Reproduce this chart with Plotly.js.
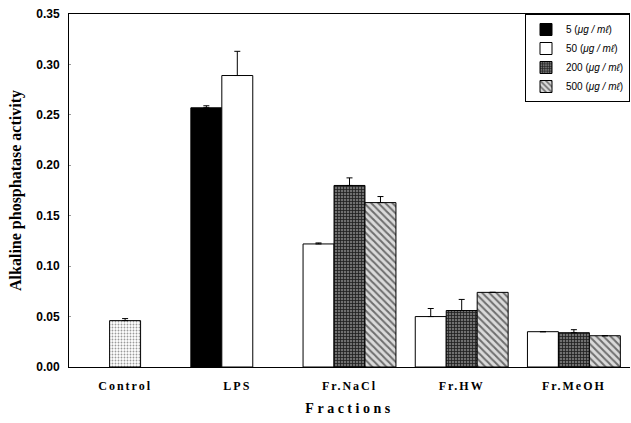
<!DOCTYPE html>
<html><head><meta charset="utf-8">
<script src="https://cdn.plot.ly/plotly-3.0.1.min.js"></script>
<style>
html,body{margin:0;padding:0;background:#fff;}
#chart .xtick text{letter-spacing:2px;}
#chart .g-xtitle text{letter-spacing:3.5px;}
</style>
</head><body>
<div id="chart" style="width:631px;height:423px;"></div>
<script>
const categories = ['Control','LPS','Fr.NaCl','Fr.HW','Fr.MeOH'];
const control    = [0.046, null, null, null, null];
const s5         = [null, 0.257, null, null, null];
const s50        = [null, 0.289, 0.122, 0.050, 0.035];
const s200       = [null, null, 0.180, 0.056, 0.034];
const s500       = [null, null, 0.163, 0.074, 0.031];
const errControl = [0.002, null, null, null, null];
const err5       = [null, 0.002, null, null, null];
const err50      = [null, 0.024, 0.001, 0.008, 0];
const err200     = [null, null, 0.0075, 0.011, 0.003];
const err500     = [null, null, 0.006, 0, 0];
const seriesNames = ['5 (<i>μg / mℓ</i>)','50 (<i>μg / mℓ</i>)','200 (<i>μg / mℓ</i>)','500 (<i>μg / mℓ</i>)'];

const W = 0.276;
// slot index (in bar widths, left edge) per category for each series
const slots = {
  control: [-0.5,-0.5,-0.5,-0.5,-0.5],
  s5:      [-1.5,-1.5,-1.5,-1.5,-1.5],
  s50:     [-0.5,-0.5,-1.5,-1.5,-1.5],
  s200:    [-0.5,-0.5,-0.5,-0.5,-0.5],
  s500:    [0.5,0.5,0.5,0.5,0.5]
};
function mk(vals, errs, slot, name, pattern, showlegend){
  return {
    type:'bar', x:categories, y:vals, name:name, showlegend:showlegend,
    width:W, offset:slot.map(s=>s*W),
    marker:{color:pattern.bg, line:{color:'#000', width:1}, pattern:pattern.p},
    error_y:{type:'data', symmetric:false, array:errs, arrayminus:errs.map(v=>v===null?null:0),
      color:'#000', thickness:1, width:3, visible:true}
  };
}
const traces = [
  mk(control, errControl, slots.control, 'Control', {bg:'#ffffff', p:{shape:'.', fgcolor:'#9a9a9a', bgcolor:'#ffffff', size:3, solidity:0.3}}, false),
  mk(s5, err5, slots.s5, seriesNames[0], {bg:'#000000', p:{shape:''}}, true),
  mk(s50, err50, slots.s50, seriesNames[1], {bg:'#ffffff', p:{shape:''}}, true),
  mk(s200, err200, slots.s200, seriesNames[2], {bg:'#5a5a5a', p:{shape:'+', fgcolor:'#1e1e1e', bgcolor:'#707070', size:3, solidity:0.45}}, true),
  mk(s500, err500, slots.s500, seriesNames[3], {bg:'#cccccc', p:{shape:'\\', fgcolor:'#6e6e6e', bgcolor:'#dadada', size:5, solidity:0.4}}, true)
];
const layout = {
  width:631, height:423,
  margin:{l:69, r:1, t:14, b:56},
  paper_bgcolor:'#fff', plot_bgcolor:'#fff',
  barmode:'overlay',
  showlegend:true,
  legend:{x:1, xanchor:'right', y:1, yanchor:'top', bgcolor:'#fff', bordercolor:'#000', borderwidth:1,
    font:{family:'Liberation Sans, Arial, sans-serif', size:10, color:'#000'}, tracegroupgap:0, itemwidth:30},
  xaxis:{type:'category', showline:true, linecolor:'#000', linewidth:1, mirror:true, ticks:'', showgrid:false,
    tickfont:{family:'Liberation Serif, Times New Roman, serif', size:12, color:'#000', weight:'bold'},
    ticklabelstandoff:8,
    title:{text:'Fractions', font:{family:'Liberation Serif, Times New Roman, serif', size:14, color:'#000', weight:'bold'}, standoff:10}},
  yaxis:{range:[0,0.35], dtick:0.05, tickformat:'.2f', showline:true, linecolor:'#000', linewidth:1,
    ticks:'inside', ticklen:2, tickcolor:'#999', showgrid:false, zeroline:false,
    tickfont:{family:'Liberation Sans, Arial, sans-serif', size:12, color:'#000', weight:'bold'},
    ticklabelstandoff:6,
    title:{text:'Alkaline phosphatase activity', font:{family:'Liberation Serif, Times New Roman, serif', size:16, color:'#000', weight:'bold'}, standoff:10}}
};
Plotly.newPlot('chart', traces, layout, {displayModeBar:false, staticPlot:true});
</script>
</body></html>
